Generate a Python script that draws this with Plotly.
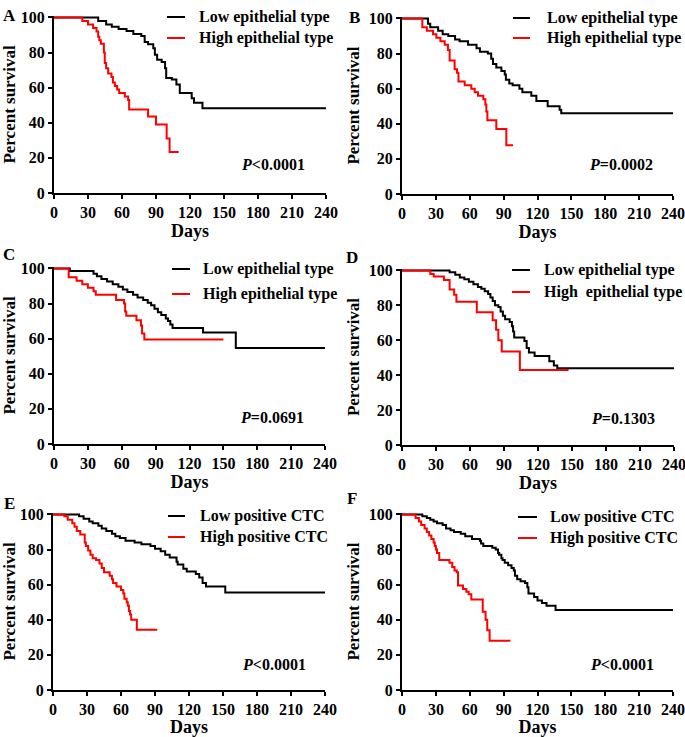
import plotly.graph_objects as go

W, H = 685, 737

# ---------------- data ----------------
days_ticks = [0, 30, 60, 90, 120, 150, 180, 210, 240]
surv_ticks = [0, 20, 40, 60, 80, 100]

a_low_t = [0, 39, 46, 51, 57, 64, 70, 77, 80, 83, 87.6, 89, 91, 95, 98, 99, 104, 108, 111, 121.5, 123.5, 131, 240]
a_low_s = [100, 97.9, 96, 94.7, 93.4, 92.3, 90.6, 89.4, 86, 84.7, 82.5, 78.7, 75.9, 74.6, 71, 65.5, 64.6, 61.8, 57, 54, 51.4, 48.3, 48.3]
a_high_t = [0, 25, 30, 34.5, 37.5, 39, 40, 41.3, 44, 44.8, 46, 47.8, 50.7, 52, 53.7, 55.7, 57.5, 62.5, 65.4, 66.3, 83, 90, 99.4, 102, 110]
a_high_s = [100, 98, 96, 94, 92, 89, 87, 85, 80, 74, 71, 68, 66, 63, 61, 59, 57, 55, 53, 47.5, 43.5, 39, 31, 23.3, 23.3]

b_low_t = [0, 23, 25, 32, 36, 41, 47, 51, 58.5, 66, 69, 76, 79, 80.6, 83.5, 88, 91, 92, 95, 98, 104, 106.6, 114.5, 119, 129, 139.6, 141, 240]
b_low_s = [100, 97, 95, 93, 91, 90, 88, 87, 85, 83, 81, 80, 77, 74, 72, 70, 68, 65, 63, 62, 60, 58, 56, 53, 50, 48, 46, 46]
b_high_t = [0, 18, 22, 27.5, 30.4, 34, 37.8, 40.7, 42.2, 46.6, 48.7, 50, 55.5, 61.4, 64.4, 67.3, 72, 73.8, 74.7, 75.6, 83.5, 92.4, 98.3]
b_high_s = [100, 95, 93, 91, 89, 87, 85, 82, 76, 71, 69, 64, 62, 60, 58, 56, 54, 51, 47, 42, 37, 27.7, 27.7]

c_low_t = [0, 14, 35, 38, 42, 47, 52, 57, 61, 65, 70, 74, 79, 83, 86, 89, 92, 95, 99, 101, 103, 105, 132, 161, 240]
c_low_s = [100, 98.5, 97, 95.5, 94, 92.5, 91, 89.5, 88, 86.5, 85, 83.5, 82, 80.5, 79, 77, 75, 73.5, 71.5, 70, 68, 66, 63.5, 54.7, 54.7]
c_high_t = [0, 13, 20, 25, 30, 35, 37, 55, 62, 63, 64, 73, 77, 78, 80, 150]
c_high_s = [100, 95, 93, 91, 89, 87, 85, 82, 80, 75.5, 73, 70.5, 67.5, 63, 59.5, 59.5]

d_low_t = [0, 42, 47, 51, 55, 59, 63, 67, 70, 73, 76, 78, 80, 82, 85, 87, 89, 91, 95, 97, 98, 99, 108, 110, 112, 117, 130, 134, 137, 240]
d_low_s = [100, 99, 97.5, 96, 95, 93.5, 92, 90.5, 89.5, 88, 86.5, 84.5, 82.5, 80, 79, 76.5, 74, 72, 70.5, 68, 65, 61.5, 59.5, 55.5, 53, 51, 48, 45.5, 44, 44]
d_high_t = [0, 25, 28, 37, 42, 46, 48, 66, 80, 83, 85, 88, 104, 147]
d_high_s = [100, 98, 96.5, 94.5, 89, 86, 82, 76, 71.5, 66, 60, 53.5, 43, 43]

e_low_t = [0, 23, 27, 32, 35, 40, 43, 47, 52, 55, 59, 64, 72, 78, 86, 90, 95, 99, 103, 109, 110, 115, 118, 126, 129, 132, 135, 152, 240]
e_low_s = [100, 99, 97.5, 96, 95, 93.5, 92, 90.5, 89, 87.5, 86.5, 85, 84, 83, 82, 80.5, 79, 77, 75.5, 73, 71.5, 69, 67.5, 66, 64, 61, 59, 55.5, 55.5]
e_high_t = [0, 10, 13, 17, 19, 21, 24, 28, 29, 31, 33, 35, 38, 41, 43, 45, 50, 52, 53, 56, 60, 62, 63, 65, 66, 67, 68, 69, 74, 92]
e_high_s = [100, 99, 97, 95, 93, 90.5, 88.5, 84, 82, 79.5, 77, 75, 74, 72, 69.5, 67, 65, 63, 61, 59, 57, 55, 52, 50, 48, 45, 43, 40, 34.3, 34.3]

f_low_t = [0, 18, 22, 25, 28, 31, 36, 39, 43, 46, 52, 56, 62, 69, 70, 72, 80, 83, 85, 86, 88, 89, 91, 94, 97, 99, 100, 102, 105, 109, 111, 112, 117, 120, 124, 128, 136, 240]
f_low_s = [100, 99, 98, 97, 96, 95, 94, 92, 91, 90, 89, 87.5, 86, 85, 83.5, 82, 81, 80, 78, 77, 75, 74, 72.5, 71, 69.5, 68, 65, 63, 62, 61, 58.5, 55, 53, 51, 49.5, 48, 45.5, 45.5]
f_high_t = [0, 12, 15, 17, 20, 22, 24, 26, 28, 29, 30, 31, 33, 42, 44.5, 46.5, 48.5, 49.6, 54, 57, 59, 61.4, 71.5, 74, 75.5, 77.6, 96]
f_high_s = [100, 98, 96, 94, 92, 90, 88, 86, 84, 82, 80, 78, 74, 72.5, 70, 68, 67, 59.5, 57.5, 56, 54.5, 51.5, 44.5, 40, 34, 28, 28]

panel_letters = ["A", "B", "C", "D", "E", "F"]
low_names = ["Low epithelial type"] * 3 + ["Low epithelial type", "Low positive CTC", "Low positive CTC"]
high_names = ["High epithelial type"] * 3 + ["High  epithelial type", "High positive CTC", "High positive CTC"]
p_texts = ["<i>P</i>&lt;0.0001", "<i>P</i>=0.0002", "<i>P</i>=0.0691",
           "<i>P</i>=0.1303", "<i>P</i>&lt;0.0001", "<i>P</i>&lt;0.0001"]

curves = [
    (a_low_t, a_low_s, a_high_t, a_high_s),
    (b_low_t, b_low_s, b_high_t, b_high_s),
    (c_low_t, c_low_s, c_high_t, c_high_s),
    (d_low_t, d_low_s, d_high_t, d_high_s),
    (e_low_t, e_low_s, e_high_t, e_high_s),
    (f_low_t, f_low_s, f_high_t, f_high_s),
]

# ---------------- layout geometry (pixels) ----------------
boxes = [  # (left, right, top, bottom)
    (54, 326, 16, 193),
    (402, 673, 17, 194),
    (54, 325, 267, 444),
    (402, 674, 269, 445),
    (53, 325, 513, 690),
    (402, 673, 513, 690),
]
legend_pos = [  # line x0, x1, y_low, y_high, text x
    (167, 185, 17, 38, 197),
    (513, 530, 18, 38, 545),
    (172, 190, 269, 294, 201),
    (512, 530, 270, 292, 542),
    (168, 185, 516, 537, 198),
    (518, 537, 517, 538, 548),
]
p_pos = [(273, 165), (621, 165), (272, 417), (623, 418), (274, 664), (622, 664)]
letter_pos = [(9, 15), (354, 17), (9, 255), (352, 257), (9, 503), (352, 498)]

FONT = "Liberation Serif"


def px(x):
    return x / W


def py(y):
    return 1 - y / H


fig = go.Figure()
annotations = []
shapes = []

for i, (lt, ls, ht, hs) in enumerate(curves):
    n = i + 1
    xa = "x" if n == 1 else f"x{n}"
    ya = "y" if n == 1 else f"y{n}"
    fig.add_trace(go.Scatter(x=lt, y=ls, mode="lines", line=dict(color="black", width=2, shape="hv"),
                             xaxis=xa, yaxis=ya, showlegend=False, name=low_names[i]))
    fig.add_trace(go.Scatter(x=ht, y=hs, mode="lines", line=dict(color="#ff0000", width=2, shape="hv"),
                             xaxis=xa, yaxis=ya, showlegend=False, name=high_names[i]))
    l, r, t, b = boxes[i]
    axis_common = dict(showline=True, linewidth=2, linecolor="black", ticks="outside", ticklen=4,
                       tickwidth=2, tickcolor="black", showgrid=False, zeroline=False, automargin=False,
                       tickfont=dict(family=FONT, size=16, color="black", weight="bold"),
                       ticklabeloverflow="allow", fixedrange=True)
    xkey = "xaxis" if n == 1 else f"xaxis{n}"
    ykey = "yaxis" if n == 1 else f"yaxis{n}"
    fig.update_layout({
        xkey: dict(domain=[px(l), px(r)], anchor=ya, range=[0, 240], tickvals=days_ticks,
                   title=dict(text="Days", font=dict(family=FONT, size=18, color="black", weight="bold"),
                              standoff=2),
                   **axis_common),
        ykey: dict(domain=[py(b), py(t)], anchor=xa, range=[0, 100.8], tickvals=surv_ticks,
                   title=dict(text="Percent survival", font=dict(family=FONT, size=17, color="black", weight="bold"),
                              standoff=5),
                   **axis_common),
    })
    x0, x1, yl, yh, tx = legend_pos[i]
    shapes.append(dict(type="line", xref="paper", yref="paper", x0=px(x0), x1=px(x1), y0=py(yl), y1=py(yl),
                       line=dict(color="black", width=2)))
    shapes.append(dict(type="line", xref="paper", yref="paper", x0=px(x0), x1=px(x1), y0=py(yh), y1=py(yh),
                       line=dict(color="#ff0000", width=2)))
    for yy, txt in ((yl, low_names[i]), (yh, high_names[i])):
        annotations.append(dict(xref="paper", yref="paper", x=px(tx), y=py(yy), text=txt, showarrow=False,
                                xanchor="left", yanchor="middle",
                                font=dict(family=FONT, size=16, color="black", weight="bold")))
    annotations.append(dict(xref="paper", yref="paper", x=px(p_pos[i][0]), y=py(p_pos[i][1]), text=p_texts[i],
                            showarrow=False, xanchor="center", yanchor="middle",
                            font=dict(family=FONT, size=16, color="black", weight="bold")))
    annotations.append(dict(xref="paper", yref="paper", x=px(letter_pos[i][0]), y=py(letter_pos[i][1]),
                            text=panel_letters[i], showarrow=False, xanchor="center", yanchor="middle",
                            font=dict(family=FONT, size=17, color="black", weight="bold")))

fig.update_layout(width=W, height=H, margin=dict(l=0, r=0, t=0, b=0, autoexpand=False),
                  paper_bgcolor="white", plot_bgcolor="white",
                  font=dict(family=FONT, size=15, color="black", weight="bold"),
                  annotations=annotations, shapes=shapes, showlegend=False)

fig.write_html("out.html", config={"displayModeBar": False},
               post_script="document.body.style.margin='0';document.body.style.overflow='hidden';")
